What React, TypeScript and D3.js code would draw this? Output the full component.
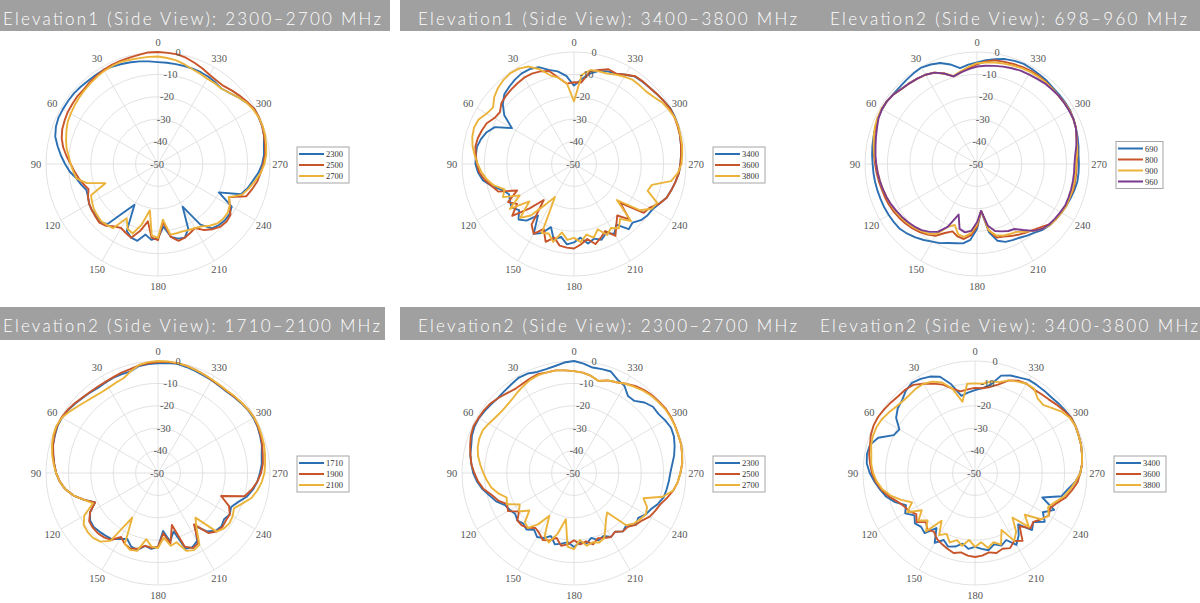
import React from "react";
import * as d3 from "d3";

// sample angles of every trace, degrees counter-clockwise from the top
const ANGLES = d3.range(0, 360, 5);
const ANGLE_TICKS = [0, 30, 60, 90, 120, 150, 180, 210, 240, 270, 300, 330];
const DB_TICKS = [-50, -40, -30, -20, -10, 0];
const COLORS = ["#2c6fb2", "#c8542a", "#ebb33a", "#7a3b8e"];

// Elevation1 2300-2700
const e1a2300 = [-4.5,-4,-3.5,-3,-2.5,-2,-1.5,-1.5,-1.5,-1.2,-1,-1,-1,-1,-1.5,-2.5,-4.5,-6.5,-8.5,-10.5,-13,-14.5,-16,-15.5,-14.5,-14,-14,-13.5,-15,-24,-29,-17,-15,-14.5,-18,-16,-17,-22,-17,-15.5,-15,-18,-28,-17,-12.5,-11.5,-11,-11,-12,-20,-10.5,-8.5,-7,-5,-3.5,-2.5,-2,-1,-0.5,-0.5,-0.5,-2,-3.5,-5,-6,-5.5,-5,-4.8,-4.7,-4.7,-4.7,-4.6];
const e1a2500 = [0,0,-0.5,-0.8,-1,-1.2,-1.5,-2,-2.5,-3,-3,-3.3,-3.5,-4,-4.5,-5.5,-7,-9,-11,-12.5,-14,-15.5,-17,-15.5,-14.5,-14,-13.5,-13,-14,-16,-17,-16,-15,-19,-24,-17,-16,-24,-17,-14.5,-15,-16,-17,-14,-12,-10.5,-10,-10.5,-13,-15,-8,-6.5,-5,-4,-3,-2,-1.5,-1,-0.5,-0.3,-0.5,-1.5,-2.5,-3.5,-4.5,-4.5,-4,-3,-2,-1,-0.3,-0.2];
const e1a2700 = [-2,-2,-2,-1.8,-1.5,-1.7,-2,-2.5,-3,-3.5,-4,-4.5,-5,-5.5,-6.5,-7.5,-8.5,-10,-11,-12,-13,-17,-25,-17,-16,-15,-14.5,-14,-14.5,-15,-22,-18,-17,-22,-29,-18,-17,-25,-18,-18,-18,-17.5,-17,-16,-14,-12.5,-12,-12,-13,-15,-10,-8,-6,-4,-2.5,-1.5,-1,-0.5,-0.3,-0.5,-1,-2,-3.5,-5,-6,-6,-6,-5.5,-5,-4,-3,-2.5];

// Elevation1 3400-3800
const e1b3400 = [-15,-10.5,-8,-6.5,-4,-3.3,-3.3,-4,-5,-6,-8.5,-12,-18,-11,-8.5,-7,-6,-6,-6,-7,-8.6,-12,-16,-18,-17,-16,-18,-15,-17,-22,-14,-16,-20,-15,-17,-14,-15,-17,-14,-15.5,-14,-16,-14,-17,-12,-13,-11,-10,-9.5,-8,-6,-5,-4,-3,-2.5,-2,-1.5,-1,-0.5,-0.3,-0.3,-1,-1.6,-2,-2.2,-2.4,-4,-5.5,-6,-7,-9,-12];
const e1b3600 = [-13.5,-14,-11,-7,-6,-5.5,-5.5,-6,-6.5,-7,-7.7,-9.6,-9,-7,-6.2,-5.5,-5.3,-6,-6.7,-7.5,-9.5,-12,-14,-22,-16,-19,-14,-22,-29,-17,-14,-18,-13,-16,-13,-12.5,-12.3,-14,-16,-13,-15,-17,-13,-17,-20,-15,-23,-12,-11,-8,-6,-5,-4,-3,-2.5,-2,-1.5,-1,-0.8,-0.5,-0.5,-1,-1.5,-2,-2,-2.2,-4,-5.5,-5,-6.5,-8,-13.5];
const e1b3800 = [-22,-14,-11,-9,-5,-2,-0.8,-0.5,-1,-2,-3.5,-5.9,-5,-3,-2.5,-3,-4,-5.5,-7,-8.5,-10.5,-13,-17,-15,-22,-15,-24,-16,-20,-28,-33,-16,-17,-14,-19,-16,-17,-15,-18,-16,-19,-15,-17,-15,-18,-14,-25,-14,-10,-9,-15,-14,-6,-3.5,-2,-1.5,-1,-0.8,-0.5,-0.5,-1.2,-2,-3.5,-4.3,-4.3,-4.2,-5,-6,-7,-7.2,-7.4,-10];

// Elevation2 698-960
const e2a690 = [-4.6,-5.5,-6.5,-4,-2,-1,-0.3,-0.6,-1,-1.3,-1.3,-1,-1,-1.3,-1.8,-2.2,-2.6,-3,-3.4,-3.6,-3.8,-4,-4.2,-4.3,-4.5,-4.7,-5,-6,-7.2,-8.6,-10,-11,-12.5,-13.4,-14,-16,-21,-29,-19,-14.5,-13,-12.5,-12,-11,-10,-8.5,-7.5,-7,-6.5,-6,-5.5,-5,-4.5,-4.5,-4.5,-4.5,-4,-3.5,-3,-2.5,-2,-2,-2,-2,-1.5,-1.3,-1,-0.7,-1,-1.5,-2.5,-3.5];
const e2a800 = [-5.5,-7,-8.5,-9.5,-7,-5,-4,-3.5,-3,-2.5,-1.5,-1,-1,-1.2,-1.8,-2.5,-3.2,-3.8,-4.5,-5,-5.5,-6,-6.3,-6.7,-7.2,-7.8,-8.5,-9.3,-10.3,-11.5,-13,-16,-18,-16.5,-16,-18,-22,-29,-20,-16,-15.5,-14.5,-13.5,-12.5,-11.5,-10,-8,-7,-6.5,-6,-6,-5.5,-5.5,-5.5,-5.5,-5,-4.5,-4,-3,-2.5,-2.2,-2.3,-2.5,-2.5,-2.2,-2,-2,-2.2,-2.5,-2.8,-3,-4];
const e2a900 = [-5,-6.5,-8,-9.3,-7,-5,-4,-3.5,-3,-2.5,-1.5,-1,-0.8,-1,-1.5,-2.3,-3.2,-4,-5,-5.5,-6,-6.5,-7,-7.5,-8,-8.5,-9.2,-10,-11,-12,-14,-19,-21,-17.5,-17,-19,-23,-29,-20,-17,-16,-15.5,-15,-13,-11,-9,-7.5,-7,-6.5,-6,-6,-5.8,-5.8,-5.8,-5.8,-5.2,-4.6,-4,-3,-2.5,-2.3,-2.4,-2.5,-2.5,-2.4,-2.4,-2.5,-2.8,-3.2,-3.6,-4,-4.5];
const e2a960 = [-6.5,-7.5,-8.5,-9.5,-7,-5,-4,-3.5,-3,-2.5,-1.5,-1,-1,-1.5,-2.5,-3.3,-4,-4.5,-5,-5.5,-6,-6.5,-7,-7.6,-8.3,-9,-9.7,-10.5,-11.5,-13,-15,-19,-26,-20,-19,-20,-24,-29,-22,-19,-18,-17,-16.5,-14,-11,-9,-8,-7.5,-7,-6.5,-6.5,-6.5,-6.5,-6.5,-6.5,-6,-5,-4,-3,-2.5,-2.5,-2.5,-2.5,-2.8,-3,-3.5,-3.8,-4,-4.5,-5,-5.5,-6];

// Elevation2 1710-2100
const e2b1710 = [-1,-1.2,-1.5,-3,-3,-3,-3.3,-3.5,-3,-2.5,-1.8,-1,-0.5,-0.5,-1,-1.5,-2.5,-3.5,-4.5,-6,-8,-11,-15,-19,-15,-13,-12.5,-13,-13.5,-14,-16,-17.5,-15,-14.5,-17,-16,-17,-24,-19,-23,-14,-13.5,-15,-21,-16,-13.5,-13,-14,-13,-14,-12,-9,-7,-5.5,-4.5,-3.5,-3,-2,-1.5,-1,-0.8,-1,-1.5,-2,-2.5,-2.5,-2.2,-2,-1.5,-1,-0.5,-0.7];
const e2b1900 = [-0.5,-0.8,-1.2,-2,-2.3,-2.8,-3,-3,-2.8,-2.3,-1.5,-0.8,-0.3,-0.3,-0.8,-1.5,-2.5,-3.5,-4.5,-6,-8,-11,-15,-19,-15,-12.5,-12,-12,-12.5,-13.5,-17,-15,-14,-15,-17,-16.5,-17,-23,-18,-26,-15,-13,-14,-22,-15,-13,-12.5,-13,-13,-15,-20,-10,-7.5,-5.5,-4,-3,-2.5,-1.8,-1.2,-0.8,-0.5,-0.8,-1.3,-1.8,-2.2,-2.2,-2,-1.5,-1,-0.5,-0.2,-0.3];
const e2b2100 = [0,-0.3,-1,-3,-5,-5.5,-6,-6,-5.5,-4.7,-3.5,-2,-0.5,0,-0.3,-1,-2,-3.2,-4.5,-6,-8,-11,-15,-18,-12,-9.5,-9,-9,-10,-13,-27,-15,-13.5,-14,-20,-17,-16.5,-21,-17,-18,-13,-12,-13,-20,-24,-13,-11.5,-11,-11.5,-12.6,-10,-6.8,-5,-3.5,-2.5,-2,-1.5,-1,-0.8,-0.5,-0.5,-0.8,-1.2,-1.6,-2,-2,-1.8,-1.5,-1,-0.5,-0.2,0];

// Elevation2 2300-2700
const e2c2300 = [0,-0.5,-1.5,-2,-2,-1,-0.8,-1.5,-2,-2.3,-2,-1.5,-1,-1,-1.5,-2.5,-3,-4,-5,-6.5,-8.5,-11,-13,-16,-17,-18,-17,-18,-17,-19,-17,-18,-20,-17,-18,-19,-17,-19,-18,-20,-18,-19,-17,-18,-16,-17,-14,-15,-13,-12,-10,-8.5,-8,-7.5,-7,-6,-4.6,-3.5,-2.5,-2.2,-3,-4,-4,-5.5,-8,-8,-5,-4,-1.8,-2,-2.2,-1];
const e2c2500 = [-4.5,-4,-3.5,-3.5,-3,-3.5,-4,-4.2,-3.5,-2.5,-1.5,-1,-0.8,-0.5,-1,-2,-3,-4,-5.5,-7,-9,-12,-14,-17,-16,-20,-17,-17,-18,-20,-19,-17,-18,-20,-17,-18,-20,-18,-19,-17,-19,-18,-17,-18,-16,-16,-14,-13,-11,-10,-9,-7,-5,-3.5,-2.5,-1.5,-1,-0.5,-0.5,-0.2,0,0,-0.5,-0.8,-1.5,-2.5,-4,-5.3,-6,-7.5,-6,-5];
const e2c2700 = [-4.5,-4,-3.5,-3.5,-3.5,-4,-5,-6,-7,-7.5,-7.5,-7,-6,-5,-5,-5.5,-6.5,-8,-9.5,-11,-12.5,-15,-18,-17,-22,-20,-24,-19,-18,-22,-28,-19,-17,-22,-29,-17,-16,-20,-17,-18,-17,-18,-22,-25,-27,-17,-15,-14,-13,-14,-17,-9,-5,-3.5,-2.5,-1.5,-1,-0.5,-0.5,-0.3,-0.2,-0.3,-0.8,-1.2,-2,-3,-4,-5.3,-6,-7.5,-6,-5];

// Elevation2 3400-3800
const e2d3400 = [-13,-14,-15,-9,-4.3,-2.5,-1.5,-0.9,-2,-4,-5,-7,-11,-10,-4,-1.5,-1,-1.5,-3,-5,-7,-9,-12,-16,-14,-17,-15,-16,-15,-20,-14,-17,-15,-16,-18,-16,-17,-16,-15,-17,-15.5,-17,-13,-16,-20,-14,-16,-12,-15,-11,-18,-10,-8,-5,-3,-2,-1.5,-1,-0.8,-0.5,-0.5,-1,-1.5,-2,-2,-2,-2,-3,-3.7,-5,-10,-12];
const e2d3600 = [-12,-12.5,-13,-11,-8,-6,-4,-2,-1.5,-1.5,-1,-0.5,0,0,-0.5,-1.5,-2,-3,-4,-5.5,-7.5,-10,-13,-15,-16,-18,-16,-19,-17,-18,-16,-15,-14,-13,-14,-13,-12.5,-13,-14,-13,-14,-13,-15,-13,-19,-15,-16,-14,-12,-13,-11,-8,-6,-4,-3,-2,-1.5,-1,-0.8,-0.5,-0.5,-1.5,-2.5,-3.5,-4,-4.4,-4,-4.5,-6,-9,-11,-12];
const e2d3800 = [-10,-10,-17.7,-11,-7,-5,-4,-4,-4.5,-4.5,-4,-3,-2,-1.5,-1.5,-2,-3,-3.5,-4.5,-6,-8,-11,-15,-19,-15,-21,-17,-20,-16,-24,-18,-20,-17,-19,-17,-20,-17,-19,-16,-18,-16,-22,-15,-18,-24,-16,-21,-14,-12,-14,-12,-9,-7,-5,-3,-2,-1.5,-1,-0.8,-0.5,-1,-2.5,-5,-7,-6.5,-4,-4,-5,-6,-8,-8.5,-10];

const PANELS = [
  { title: "Elevation1 (Side View): 2300\u20132700 MHz", names: ["2300", "2500", "2700"], series: [e1a2300, e1a2500, e1a2700], cx: 158, cy: 164, tx: 3, tw: 378 },
  { title: "Elevation1 (Side View): 3400\u20133800 MHz", names: ["3400", "3600", "3800"], series: [e1b3400, e1b3600, e1b3800], cx: 574, cy: 164, tx: 418, tw: 379 },
  { title: "Elevation2 (Side View): 698\u2013960 MHz", names: ["690", "800", "900", "960"], series: [e2a690, e2a800, e2a900, e2a960], cx: 977, cy: 164, tx: 830, tw: 357 },
  { title: "Elevation2 (Side View): 1710\u20132100 MHz", names: ["1710", "1900", "2100"], series: [e2b1710, e2b1900, e2b2100], cx: 158, cy: 473, tx: 3, tw: 377 },
  { title: "Elevation2 (Side View): 2300\u20132700 MHz", names: ["2300", "2500", "2700"], series: [e2c2300, e2c2500, e2c2700], cx: 574, cy: 473, tx: 418, tw: 379 },
  { title: "Elevation2 (Side View): 3400-3800 MHz", names: ["3400", "3600", "3800"], series: [e2d3400, e2d3600, e2d3800], cx: 975, cy: 473, tx: 820, tw: 378 },
];

const HEADERS = [
  { x: 0, y: 0, w: 390, h: 31 },
  { x: 400, y: 0, w: 800, h: 31 },
  { x: 0, y: 307, w: 385, h: 33 },
  { x: 400, y: 307, w: 800, h: 33 },
];

const R = 112;
const rScale = d3.scaleLinear().domain([-50, 0]).range([0, R]).clamp(true);
const rad = (deg: number) => (deg * Math.PI) / 180;
const trace = d3
  .lineRadial<number>()
  .angle((_, i) => -rad(ANGLES[i]))
  .radius(d => rScale(d))
  .curve(d3.curveLinearClosed);

const serif = "'Liberation Serif', 'Times New Roman', serif";

const Polar = ({ p }: { p: (typeof PANELS)[number] }) => {
  const n = p.names.length;
  const boxH = n * 11 + 3;
  const boxY = 1 - boxH / 2;
  return (
    <g transform={`translate(${p.cx},${p.cy})`}>
      {DB_TICKS.slice(1).map(v => (
        <circle key={v} r={rScale(v)} fill="none" stroke="#dadada" strokeWidth={0.8} />
      ))}
      {ANGLE_TICKS.map(a => (
        <line key={a} x1={0} y1={0} x2={-R * Math.sin(rad(a))} y2={-R * Math.cos(rad(a))} stroke="#dadada" strokeWidth={0.8} />
      ))}
      {ANGLE_TICKS.map(a => (
        <text key={a} x={-(R + 10) * Math.sin(rad(a))} y={-(R + 10) * Math.cos(rad(a))} textAnchor="middle" dominantBaseline="central" fontFamily={serif} fontSize={10.5} fill="#555">
          {a}
        </text>
      ))}
      {p.series.map((s, i) => (
        <path key={i} d={trace(s) ?? ""} fill="none" stroke={COLORS[i]} strokeWidth={1.9} strokeLinejoin="round" />
      ))}
      {DB_TICKS.map(v => (
        <text key={v} x={6 + 0.15 * rScale(v)} y={-rScale(v)} textAnchor="end" dominantBaseline="central" fontFamily={serif} fontSize={10.5} fill="#555">
          {v}
        </text>
      ))}
      <g transform={`translate(${139},${boxY})`}>
        <rect x={0} y={0} width={n === 4 ? 47 : 52} height={boxH} fill="#fff" stroke="#a6a6a6" strokeWidth={1} />
        {p.names.map((name, i) => (
          <g key={name} transform={`translate(0,${7 + i * 11})`}>
            <line x1={2} x2={27} y1={0} y2={0} stroke={COLORS[i]} strokeWidth={2} />
            <text x={29} y={0} dominantBaseline="central" fontFamily={serif} fontSize={8.5} fill="#333">
              {name}
            </text>
          </g>
        ))}
      </g>
    </g>
  );
};

export default function App() {
  return (
    <div style={{ position: "absolute", left: 0, top: 0 }}>
      <svg width={1200} height={603} style={{ display: "block", background: "#fff" }}>
        {HEADERS.map((h, i) => (
          <rect key={i} x={h.x} y={h.y} width={h.w} height={h.h} fill="#a0a0a0" />
        ))}
        {PANELS.map((p, i) => (
          <text key={i} x={p.tx} y={p.cy < 300 ? 25 : 332} textLength={p.tw} lengthAdjust="spacing" fontFamily="Lato, 'Open Sans', sans-serif" fontWeight={300} fontSize={17} fill="#fff">
            {p.title}
          </text>
        ))}
        {PANELS.map((p, i) => (
          <Polar key={i} p={p} />
        ))}
      </svg>
    </div>
  );
}
